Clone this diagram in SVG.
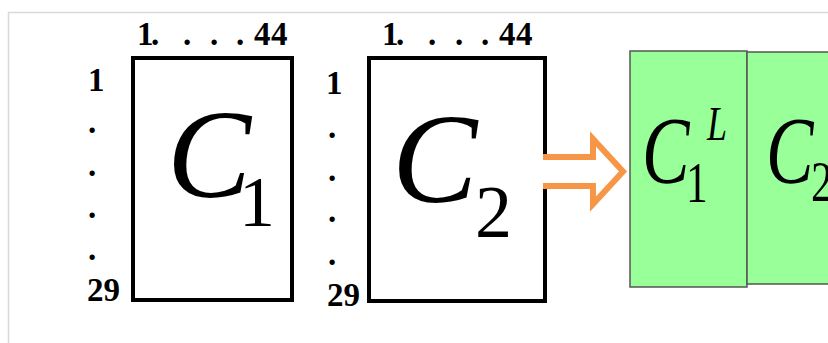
<svg xmlns="http://www.w3.org/2000/svg" width="828" height="343" viewBox="0 0 828 343">
<style>
text{font-family:'Liberation Serif','Times New Roman',serif;fill:#000}
.lbl{font-weight:bold;font-size:33px}
.big{font-style:italic}
.mat{fill:#fff;stroke:#000;stroke-width:4}
.grn{fill:#99FF99;stroke:#555;stroke-width:1.5}
</style>
<rect x="0" y="0" width="828" height="343" fill="#fff"/>
<path d="M8.5 343V12.5H828" fill="none" stroke="#d9d9d9" stroke-width="1.5"/>
<g id="matrix1">
<rect class="mat" x="133" y="58" width="159" height="242"/>
<text class="lbl" x="137 151 159 183 191 210 218 236 254 271" y="45">1. . . .44</text>
<text class="lbl" x="88" y="91">1</text>
<text class="lbl" x="88" y="133">.</text>
<text class="lbl" x="88" y="176">.</text>
<text class="lbl" x="88" y="218">.</text>
<text class="lbl" x="88" y="260">.</text>
<text class="lbl" x="87" y="301">29</text>
<text class="big" x="167" y="197" font-size="126">C</text>
<text x="239" y="226" font-size="72">1</text>
</g>
<g id="matrix2">
<rect class="mat" x="369" y="58" width="176" height="243"/>
<text class="lbl" x="382 396 404 428 436 455 463 481 499 516" y="45">1. . . .44</text>
<text class="lbl" x="326" y="94">1</text>
<text class="lbl" x="328" y="138">.</text>
<text class="lbl" x="328" y="181">.</text>
<text class="lbl" x="328" y="222">.</text>
<text class="lbl" x="328" y="265">.</text>
<text class="lbl" x="327" y="306">29</text>
<text class="big" x="392" y="202" font-size="128">C</text>
<text x="475" y="237" font-size="74">2</text>
</g>
<g id="connectors">
<path d="M543 157H593V139L623 171.5L593 204V186H543" fill="#fff" stroke="#F79646" stroke-width="6" stroke-linejoin="miter"/>
</g>
<g id="block1">
<rect class="grn" x="630" y="51" width="117" height="236"/>
<text class="big" transform="translate(642 0) scale(0.75 1)" x="0" y="183" font-size="95">C</text>
<text transform="translate(686 0) scale(0.75 1)" x="0" y="202" font-size="58">1</text>
<text class="big" transform="translate(707 0) scale(0.75 1)" x="0" y="140" font-size="48">L</text>
</g>
<g id="block2">
<rect class="grn" x="747" y="52" width="90" height="232"/>
<text class="big" transform="translate(766 0) scale(0.75 1)" x="0" y="183" font-size="95">C</text>
<text transform="translate(811 0) scale(0.75 1)" x="0" y="201" font-size="58">2</text>
</g>
</svg>
